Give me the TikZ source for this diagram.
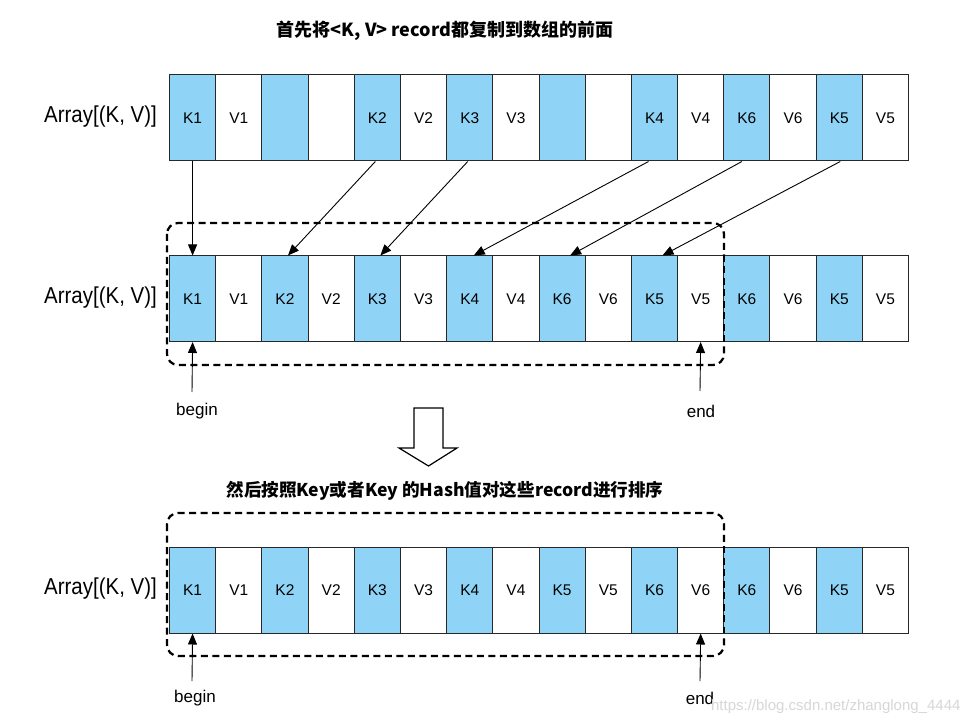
\documentclass[tikz,border=0pt]{standalone}
\usepackage{fontspec}
\setmainfont{Liberation Sans}
\newfontfamily\cjk{Noto Sans CJK SC}
\usetikzlibrary{arrows.meta}
\definecolor{kblue}{RGB}{143,212,246}
\definecolor{edgec}{RGB}{40,40,40}
\definecolor{wm}{RGB}{215,215,215}
\begin{document}
\begin{tikzpicture}[x=1pt,y=-1pt,
  cell/.style={draw=edgec, line width=1pt, minimum width=46.19pt, inner sep=0pt, anchor=north west, font=\fontsize{15.5}{15.5}\selectfont},
  kcell/.style={cell, fill=kblue},
  vcell/.style={cell, fill=white},
  arr/.style={draw=black, line width=0.9pt, -{Triangle[length=11pt,width=9pt]}},
  dbox/.style={draw=black, line width=2.2pt, dash pattern=on 7pt off 4.5pt, rounded corners=11pt},
  lab/.style={font=\fontsize{23}{23}\selectfont, anchor=east, inner sep=0pt},
  ptr/.style={font=\fontsize{17}{17}\selectfont},
  title/.style={font=\fontsize{18}{18}\selectfont\bfseries}
]
\useasboundingbox (0,0) rectangle (972,727);
\fill[white] (0,0) rectangle (972,727);

% titles
\node[title] (t1) at (445,31) {\cjk{\bfseries 首先将}<K, V> record\cjk{\bfseries 都复制到数组的前面}};
\node[title, font=\fontsize{17.6}{17.6}\selectfont\bfseries] (t2) at (445,491) {\cjk{\bfseries 然后按照}Key\cjk{\bfseries 或者}Key \cjk{\bfseries 的}Hash\cjk{\bfseries 值对这些}record\cjk{\bfseries 进行排序}};

% row labels
\node[lab] (l1) at (157,117) {\scalebox{0.89}[1]{Array[(K, V)]}};
\node[lab] (l2) at (157,298) {\scalebox{0.89}[1]{Array[(K, V)]}};
\node[lab] (l3) at (157,589) {\scalebox{0.89}[1]{Array[(K, V)]}};

% dashed boxes (behind cells)
\draw[dbox] (167,223) rectangle (724,365);
\draw[dbox] (167,513) rectangle (724,656);

% row 1
\foreach \t [count=\i from 0] in {K1,V1,{},{},K2,V2,K3,V3,{},{},K4,V4,K6,V6,K5,V5}{
  \ifodd\i\def\st{vcell}\else\def\st{kcell}\fi
  \node[\st, minimum height=86pt] (r1c\i) at (169+\i*46.19,74.5) {\t};
}
% row 2
\foreach \t [count=\i from 0] in {K1,V1,K2,V2,K3,V3,K4,V4,K6,V6,K5,V5,K6,V6,K5,V5}{
  \ifodd\i\def\st{vcell}\else\def\st{kcell}\fi
  \node[\st, minimum height=85.5pt] (r2c\i) at (169+\i*46.19,255.5) {\t};
}
% row 3
\foreach \t [count=\i from 0] in {K1,V1,K2,V2,K3,V3,K4,V4,K5,V5,K6,V6,K6,V6,K5,V5}{
  \ifodd\i\def\st{vcell}\else\def\st{kcell}\fi
  \node[\st, minimum height=86pt] (r3c\i) at (169+\i*46.19,546.5) {\t};
}

% dashed box right edge crosses over the cells
\draw[draw=black, line width=2.2pt, dash pattern=on 7pt off 4.5pt] (724,255) -- (724,342);
\draw[draw=black, line width=2.2pt, dash pattern=on 7pt off 4.5pt] (724,546) -- (724,633);

% copy arrows
\draw[arr] (r1c0.south) -- (r2c0.north);
\draw[arr] ([xshift=-2pt]r1c4.south) -- ([xshift=3pt]r2c2.north);
\draw[arr] ([xshift=-2pt]r1c6.south) -- ([xshift=3pt]r2c4.north);
\draw[arr] ([xshift=-6pt]r1c10.south) -- ([xshift=4pt]r2c6.north);
\draw[arr] ([xshift=-5pt]r1c12.south) -- ([xshift=8pt]r2c8.north);
\draw[arr] ([xshift=1pt]r1c14.south) -- ([xshift=8pt]r2c10.north);

% begin / end pointers
\node[ptr] (b2) at (197,411) {begin};
\node[ptr] (e2) at (701,411) {end};
\node[ptr] (b3) at (195,698) {begin};
\node[ptr] (e3) at (700,698) {end};
\coordinate (b2s) at (192,392);
\coordinate (e2s) at (700,391);
\coordinate (b3s) at (192,681);
\coordinate (e3s) at (700,681);
\draw[arr] (b2s) -- (r2c0.south);
\draw[arr] (e2s) -- (r2c11.south);
\draw[arr] (b3s) -- (r3c0.south);
\draw[arr] (e3s) -- (r3c11.south);

% hollow down arrow
\draw[line width=1.2pt, fill=white] (414,408) -- (443,408) -- (443,448) -- (457,448) -- (428.5,466) -- (399,448) -- (414,448) -- cycle;

% watermark
\node[font=\fontsize{15}{15}\selectfont, text=wm, anchor=east] (wmk) at (964,707) {https://blog.csdn.net/zhanglong\_4444};
\end{tikzpicture}
\end{document}
